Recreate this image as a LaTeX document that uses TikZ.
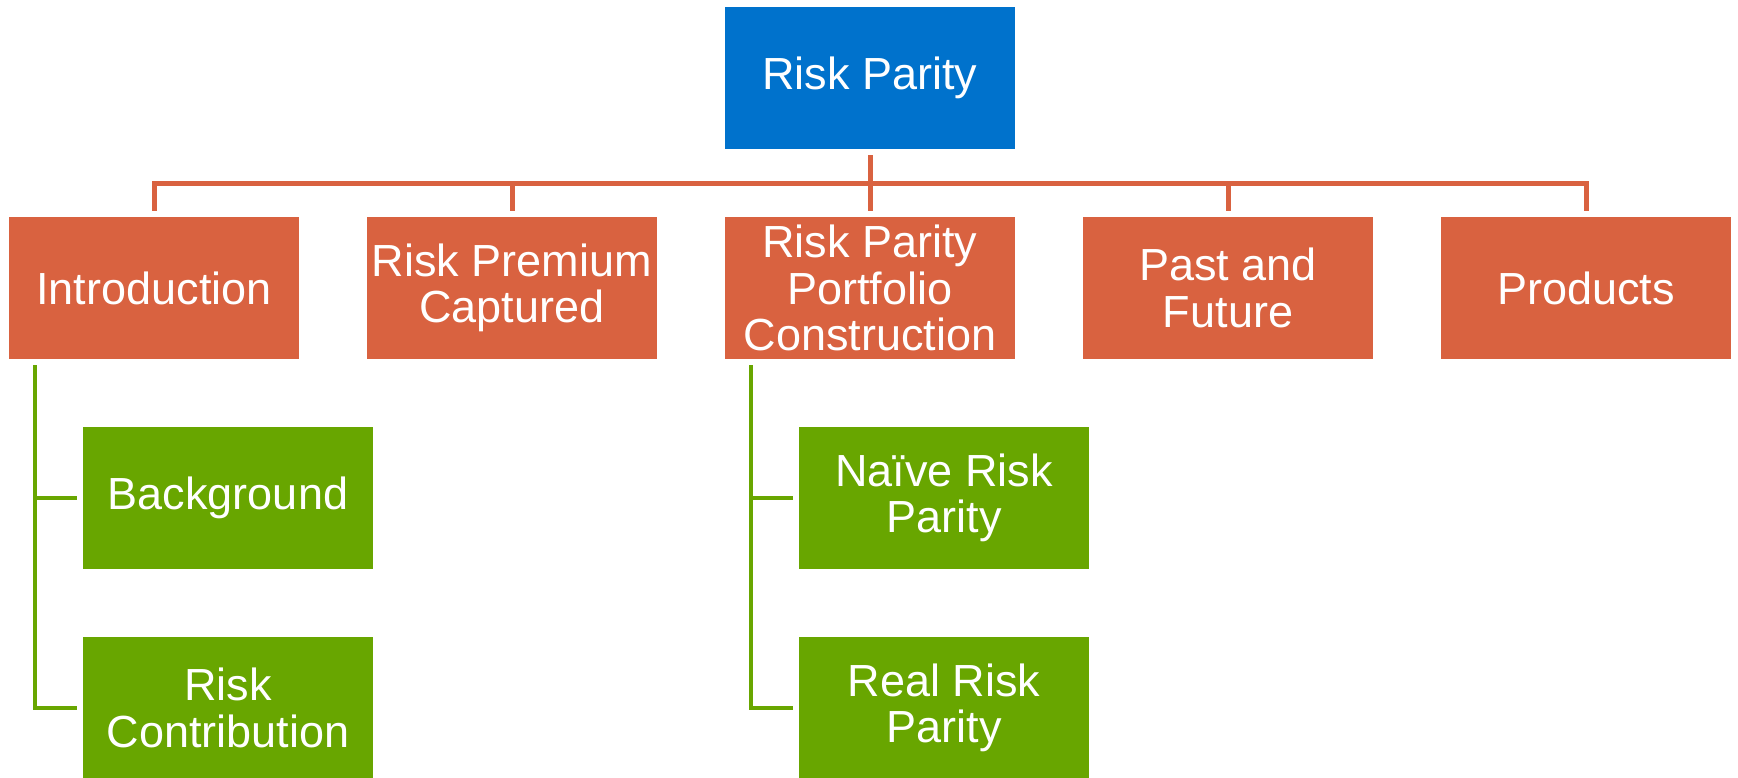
\documentclass[tikz,border=0pt]{standalone}
\usepackage{fontspec}
\setmainfont{Liberation Sans}
\definecolor{topblue}{RGB}{0,114,204}
\definecolor{rporange}{RGB}{217,98,64}
\definecolor{rpgreen}{RGB}{104,166,0}
\tikzset{
  box/.style={rectangle, minimum width=290pt, minimum height=142pt, inner sep=0pt,
    text=white, align=center, font=\fontsize{45}{46.5}\selectfont},
  bluebox/.style={box, fill=topblue},
  orangebox/.style={box, fill=rporange},
  greenbox/.style={box, fill=rpgreen},
  oline/.style={draw=rporange, line width=5pt, shorten <=6pt, shorten >=6pt},
  gline/.style={draw=rpgreen, line width=4.5pt, shorten <=6pt, shorten >=6pt},
}
\begin{document}
\begin{tikzpicture}[x=1pt,y=-1pt]
\useasboundingbox (0,0) rectangle (1738,777);
\clip (0,0) rectangle (1738,777);
\node[bluebox] (top) at (870,78) {Risk Parity};
\node[orangebox] (intro) at (154,288) {Introduction};
\node[orangebox] (prem) at (512,288) {Risk Premium\\Captured};
\node[orangebox] (constr) at (870,288) {Risk Parity\\Portfolio\\Construction};
\node[orangebox] (past) at (1228,288) {Past and\\Future};
\node[orangebox] (prod) at (1586,288) {Products};
\node[greenbox] (bg) at (228,498) {Background};
\node[greenbox] (rc) at (228,708) {Risk\\Contribution};
\node[greenbox] (naive) at (944,498) {Naïve Risk\\Parity};
\node[greenbox] (real) at (944,708) {Real Risk\\Parity};
\foreach \c in {intro,prem,constr,past,prod}{
  \draw[oline] (top.south) -- ++(0,34) -| (\c.north);
}
\draw[gline] ([xshift=26pt]intro.south west) |- (bg.west);
\draw[gline] ([xshift=26pt]intro.south west) |- (rc.west);
\draw[gline] ([xshift=26pt]constr.south west) |- (naive.west);
\draw[gline] ([xshift=26pt]constr.south west) |- (real.west);
\end{tikzpicture}
\end{document}
